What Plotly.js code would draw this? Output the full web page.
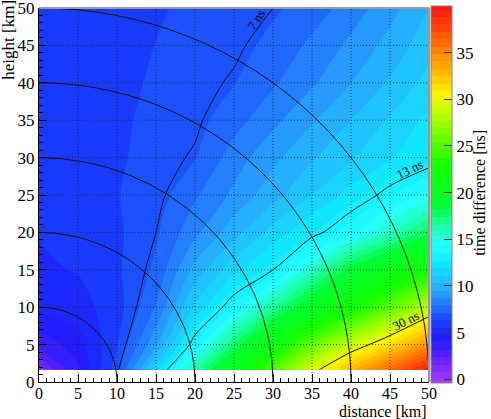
<!DOCTYPE html>
<html>
<head>
<meta charset="utf-8">
<script src="https://cdn.plot.ly/plotly-3.0.1.min.js"></script>
<style>
  html, body { margin: 0; padding: 0; background: white; }
  #chart { width: 491px; height: 419px; }
</style>
</head>
<body>
<div id="chart"></div>
<script>
// sample grid (km)
const distance = [0, 5, 10, 15, 20, 25, 30, 35, 40, 45, 50];
const height = [1.65, 5, 10, 15, 20, 25, 30, 35, 40, 45, 50];

// time difference [ns], one row per height (bottom to top)
const timeDiff = [
    [1.5, 3.8, 6.8, 11.6, 16.5, 20.5, 25.0, 29.3, 33.0, 36.3, 39.5],
    [3.4, 4.4, 6.3, 9.4, 13.6, 17.5, 21.6, 25.6, 28.7, 31.5, 34.5],
    [4.9, 5.2, 6.0, 8.0, 11.3, 13.7, 16.6, 19.6, 22.4, 25.3, 28.5],
    [5.4, 5.6, 6.2, 7.3, 9.8, 11.6, 13.0, 15.7, 18.6, 20.7, 22.8],
    [5.6, 5.75, 6.2, 7.0, 8.5, 10.0, 11.4, 12.6, 14.0, 15.8, 18.0],
    [5.8, 5.9, 6.3, 6.75, 7.8, 8.9, 10.0, 11.1, 12.2, 13.4, 14.6],
    [5.8, 5.85, 6.2, 6.7, 7.1, 8.3, 9.3, 10.2, 11.0, 11.8, 12.4],
    [5.8, 5.85, 6.15, 6.6, 6.85, 7.6, 8.5, 9.4, 10.3, 11.2, 12.1],
    [5.85, 5.9, 6.1, 6.45, 6.75, 7.1, 7.8, 8.6, 9.5, 10.4, 11.4],
    [5.9, 5.9, 6.1, 6.35, 6.6, 6.85, 7.35, 8.1, 8.9, 9.8, 10.8],
    [5.9, 5.95, 6.1, 6.25, 6.5, 6.7, 7.0, 7.5, 8.3, 9.2, 10.3]
];

const radii = [10, 20, 30, 40, 50];
const labelLevels = [7, 13, 30];
const xTicks = [0, 5, 10, 15, 20, 25, 30, 35, 40, 45, 50];
const yTicks = [0, 5, 10, 15, 20, 25, 30, 35, 40, 45, 50];
const zTicks = [0, 5, 10, 15, 20, 25, 30, 35];
const zMax = 39.6;

const serif = 'Liberation Serif, Times New Roman, serif';

// rainbow palette like the ROOT one
const palette = [
    [0.00, 'rgb(160,60,255)'],
    [0.05, 'rgb(120,40,255)'],
    [0.09, 'rgb(60,30,255)'],
    [0.125, 'rgb(28,28,255)'],
    [0.16, 'rgb(25,62,255)'],
    [0.21, 'rgb(35,120,255)'],
    [0.24, 'rgb(40,160,255)'],
    [0.28, 'rgb(30,200,255)'],
    [0.32, 'rgb(15,235,255)'],
    [0.37, 'rgb(40,255,255)'],
    [0.42, 'rgb(30,255,160)'],
    [0.47, 'rgb(0,255,50)'],
    [0.58, 'rgb(20,255,0)'],
    [0.66, 'rgb(120,255,0)'],
    [0.73, 'rgb(210,255,0)'],
    [0.77, 'rgb(255,240,0)'],
    [0.82, 'rgb(255,190,0)'],
    [0.88, 'rgb(255,130,0)'],
    [0.94, 'rgb(255,70,10)'],
    [1.00, 'rgb(255,20,20)']
];

const traces = [{
    type: 'contour',
    x: distance,
    y: height,
    z: timeDiff,
    colorscale: palette,
    autocontour: false,
    contours: { start: 0, end: zMax, size: zMax / 50, coloring: 'fill', showlines: false },
    line: { width: 0 },
    showlegend: false,
    colorbar: {
        x: 1.006, xanchor: 'left', xpad: 0,
        y: 0.5, yanchor: 'middle', ypad: 0, len: 1.005,
        thickness: 21,
        outlinewidth: 1, outlinecolor: '#888',
        ticks: 'inside', ticklen: 8, tickcolor: '#333',
        tickmode: 'array', tickvals: zTicks,
        tickfont: { family: serif, size: 17, color: 'black' }
    }
}];

// the labelled iso-lines
labelLevels.forEach(lv => {
    traces.push({
        type: 'contour',
        x: distance,
        y: height,
        z: timeDiff,
        autocontour: false,
        contours: { start: lv, end: lv, size: 1, coloring: 'none' },
        line: { color: '#111', width: 1 },
        showscale: false,
        showlegend: false,
        hoverinfo: 'skip'
    });
});

const shapes = [];
// dotted grid drawn over the map
xTicks.slice(1, -1).forEach(v => shapes.push({
    type: 'line', xref: 'x', yref: 'paper', x0: v, x1: v, y0: 0, y1: 1, layer: 'above',
    line: { color: 'rgba(30,30,30,0.75)', width: 1, dash: '1px,2px' }
}));
yTicks.slice(1, -1).forEach(v => shapes.push({
    type: 'line', xref: 'paper', yref: 'y', x0: 0, x1: 1, y0: v, y1: v, layer: 'above',
    line: { color: 'rgba(30,30,30,0.75)', width: 1, dash: '1px,2px' }
}));
// distance circles
radii.forEach(r => shapes.push({
    type: 'circle', xref: 'x', yref: 'y', x0: -r, y0: -r, x1: r, y1: r, layer: 'above',
    line: { color: '#111', width: 1 }
}));
// grey frame top and right
shapes.push({ type: 'line', xref: 'paper', yref: 'paper', x0: 0, x1: 1, y0: 1, y1: 1, line: { color: '#999', width: 2 } });
shapes.push({ type: 'line', xref: 'paper', yref: 'paper', x0: 1, x1: 1, y0: 0, y1: 1, line: { color: '#999', width: 2 } });

const axisCommon = {
    range: [0, 50],
    tickmode: 'array',
    ticks: 'inside', ticklen: 8, tickcolor: 'black', tickwidth: 1,
    minor: { tickmode: 'linear', tick0: 0, dtick: 1, ticks: 'inside', ticklen: 4, tickcolor: 'black', showgrid: false },
    showline: true, linecolor: 'black', linewidth: 1,
    showgrid: false, zeroline: false,
    ticklabeloverflow: 'allow',
    layer: 'above traces',
    fixedrange: true
};

const layout = {
    width: 491, height: 419,
    margin: { l: 39, r: 62, t: 7, b: 37 },
    showlegend: false,
    paper_bgcolor: 'white',
    plot_bgcolor: 'white',
    font: { family: serif, color: 'black' },
    xaxis: Object.assign({}, axisCommon, {
        tickvals: xTicks, ticklabelstandoff: -3,
        tickfont: { family: serif, size: 16, color: 'black' }
    }),
    yaxis: Object.assign({}, axisCommon, {
        tickvals: yTicks,
        tickfont: { family: serif, size: 17, color: 'black' }
    }),
    shapes: shapes,
    annotations: [
        { text: 'distance [km]', xref: 'paper', yref: 'paper', x: 0.881, y: -0.08, showarrow: false,
          xanchor: 'center', yanchor: 'middle', font: { family: serif, size: 16 } },
        { text: 'height [km]', xref: 'paper', yref: 'paper', x: -0.078, y: 0.914, showarrow: false, textangle: -90,
          xanchor: 'center', yanchor: 'middle', font: { family: serif, size: 17 } },
        { text: 'time difference [ns]', xref: 'paper', yref: 'paper', x: 1.131, y: 0.506, showarrow: false, textangle: -90,
          xanchor: 'center', yanchor: 'middle', font: { family: serif, size: 16 } },
        { text: '7 ns', xref: 'x', yref: 'y', x: 27.9, y: 48.4, showarrow: false, textangle: -57,
          font: { family: serif, size: 13 } },
        { text: '13 ns', xref: 'x', yref: 'y', x: 47.5, y: 28.35, showarrow: false, textangle: -26,
          font: { family: serif, size: 13 } },
        { text: '30 ns', xref: 'x', yref: 'y', x: 47.1, y: 8.2, showarrow: false, textangle: -27,
          font: { family: serif, size: 13 } }
    ]
};

Plotly.newPlot('chart', traces, layout, { displayModeBar: false, staticPlot: true });
</script>
</body>
</html>
